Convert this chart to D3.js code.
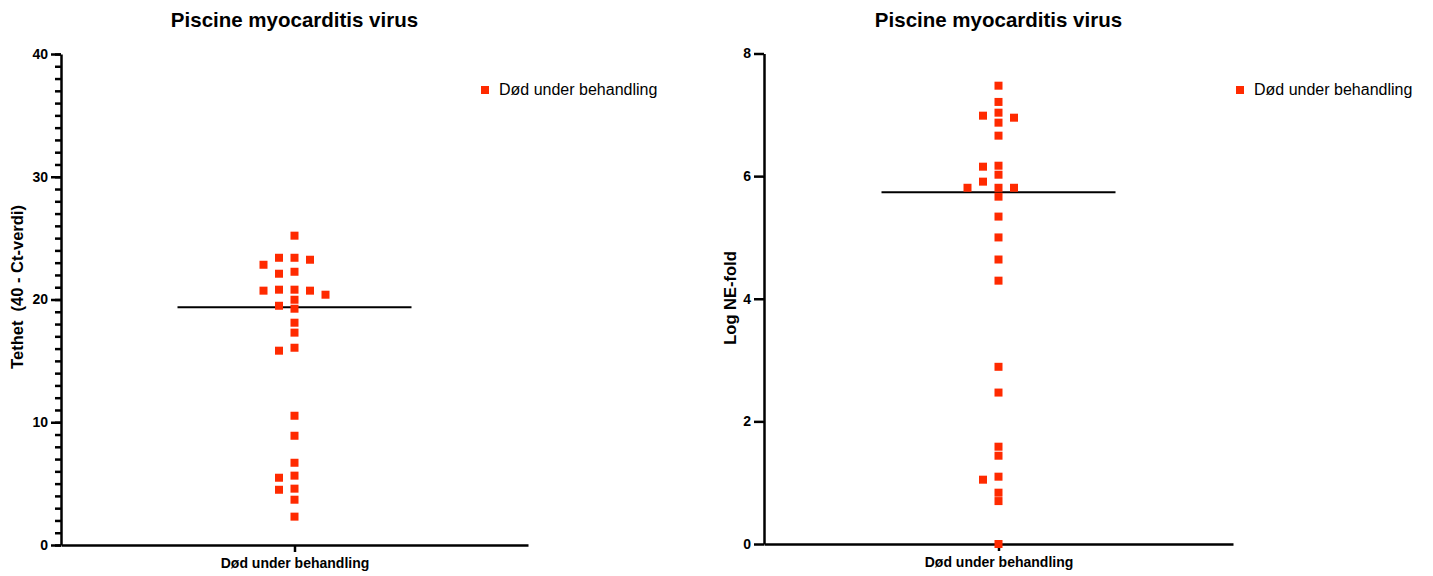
<!doctype html>
<html>
  <head>
    <meta charset="utf-8">
    <title>Piscine myocarditis virus</title>
    <style>
      html, body { margin: 0; padding: 0; background: #fff; }
      svg { display: block; font-family: Arial, "Liberation Sans", sans-serif; }
      .axis path, .axis line { stroke: #000; stroke-width: 2.5px; }
      .axis text { font-size: 14px; font-weight: bold; fill: #000; }
      .title { font-size: 20.5px; font-weight: bold; }
      .ytitle { font-size: 16.5px; font-weight: bold; white-space: pre; }
      .legend { font-size: 16px; }
    </style>
  </head>
  <body>
    <script src="https://d3js.org/d3.v7.min.js"></script>
    <script>
      // data
      var category = ["Død under behandling"];
      var ctValues = [25.2, 23.4, 23.4, 23.24, 22.83, 22.26, 22.1, 20.8, 20.8, 20.72, 20.72,
                      20.39, 19.98, 19.49, 19.25, 18.11, 17.3, 16.07, 15.83, 10.53, 8.9,
                      6.7, 5.65, 5.48, 4.59, 4.5, 3.69, 2.31];
      var neValues = [7.475, 7.21, 7.035, 6.986, 6.953, 6.872, 6.66, 6.17, 6.154, 6.023,
                      5.91, 5.81, 5.81, 5.81, 5.665, 5.34, 5.0, 4.64, 4.295, 2.89, 2.47,
                      1.587, 1.44, 1.098, 1.049, 0.837, 0.70, 0.0];
      var ctTicks = [0, 10, 20, 30, 40];
      var ctMinor = d3.range(0, 41, 1);
      var neTicks = [0, 2, 4, 6, 8];

      var W = 1433, H = 576;
      var svg = d3.select("body").append("svg")
          .attr("width", W)
          .attr("height", H);

      // greedy beeswarm: place each point at the closest free column
      function swarm(values, y, step, minDy) {
        var order = values.map(function(v, i) { return i; })
          .sort(function(a, b) { return values[b] - values[a]; });
        var placed = [];
        var out = new Array(values.length);
        order.forEach(function(i) {
          var py = y(values[i]);
          var k = 0, cands = [0];
          for (k = 1; k < 10; k++) { cands.push(-k); cands.push(k); }
          for (var c = 0; c < cands.length; c++) {
            var dx = cands[c] * step;
            var hit = placed.some(function(p) {
              return Math.abs(p.dx - dx) < step - 0.5 && Math.abs(p.y - py) < minDy;
            });
            if (!hit) { placed.push({dx: dx, y: py}); out[i] = dx; break; }
          }
        });
        return out;
      }

      function drawPanel(cfg) {
        var x = d3.scalePoint().domain(category).range([cfg.left, cfg.right]).padding(0.5);
        var y = d3.scaleLinear().domain(cfg.domain).range([cfg.bottom, cfg.top]);
        var cx = x(category[0]);

        svg.append("text")
          .attr("class", "title")
          .attr("x", cx).attr("y", 27)
          .attr("text-anchor", "middle")
          .text("Piscine myocarditis virus");

        if (cfg.minor) {
          svg.append("g")
            .attr("class", "axis")
            .attr("transform", "translate(" + cfg.left + ",0)")
            .call(d3.axisLeft(y).tickValues(cfg.minor).tickSize(6).tickFormat(""))
            .call(function(g) { g.select(".domain").remove(); });
        }

        svg.append("g")
          .attr("class", "axis")
          .attr("transform", "translate(" + cfg.left + ",0)")
          .call(d3.axisLeft(y).tickValues(cfg.ticks).tickSize(10).tickSizeOuter(0).tickPadding(3));

        svg.append("g")
          .attr("class", "axis")
          .attr("transform", "translate(0," + cfg.bottom + ")")
          .call(d3.axisBottom(x).tickSize(7).tickSizeOuter(0).tickPadding(6));

        svg.append("text")
          .attr("class", "ytitle")
          .attr("transform", "translate(" + cfg.ylabelX + "," + cfg.ylabelY + ") rotate(-90)")
          .attr("text-anchor", "middle")
          .text(cfg.ylabel);

        // median line
        var med = d3.median(cfg.values);
        svg.append("line")
          .attr("x1", cx - 117).attr("x2", cx + 117)
          .attr("y1", y(med)).attr("y2", y(med))
          .attr("stroke", "#000").attr("stroke-width", 2);

        var offs = swarm(cfg.values, y, 15.5, 8.2);
        svg.append("g").selectAll("rect")
          .data(cfg.values)
          .join("rect")
          .attr("x", function(d, i) { return cx + offs[i] - 4; })
          .attr("y", function(d) { return y(d) - 4; })
          .attr("width", 8).attr("height", 8)
          .attr("fill", "#ff2a00");

        // legend
        svg.append("rect")
          .attr("x", cfg.legendX - 4).attr("y", 86)
          .attr("width", 8).attr("height", 8)
          .attr("fill", "#ff2a00");
        svg.append("text")
          .attr("class", "legend")
          .attr("x", cfg.legendX + 14).attr("y", 95)
          .text(category[0]);
      }

      drawPanel({
        left: 61, right: 528, top: 54, bottom: 545,
        domain: [0, 40], ticks: ctTicks, minor: ctMinor,
        values: ctValues,
        ylabel: "Tethet  (40 - Ct-verdi)", ylabelX: 23, ylabelY: 287,
        legendX: 485
      });

      drawPanel({
        left: 764, right: 1233, top: 53.5, bottom: 544,
        domain: [0, 8], ticks: neTicks, minor: null,
        values: neValues,
        ylabel: "Log NE-fold", ylabelX: 736, ylabelY: 298,
        legendX: 1240
      });
    </script>
  </body>
</html>
